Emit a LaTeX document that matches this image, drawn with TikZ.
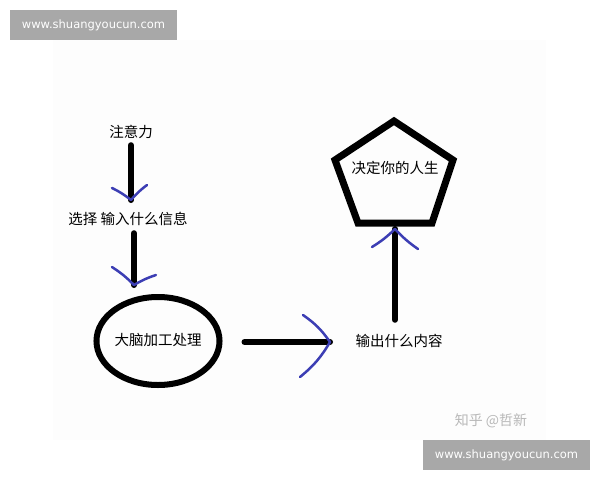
\documentclass[tikz,border=0pt]{standalone}
\usepackage{fontspec}
\setmainfont{Noto Sans CJK SC}
\newfontfamily\wmfont{DejaVu Sans}
\usetikzlibrary{shapes.geometric,calc}

\definecolor{pen}{RGB}{60,62,180}
\definecolor{wmgray}{RGB}{168,168,168}
\definecolor{paper}{RGB}{253,253,253}

\begin{document}
\begin{tikzpicture}[x=1pt, y=-1pt,
  word/.style={inner sep=0pt, text height=11pt, text depth=3pt, font=\fontsize{14.5}{16}\selectfont},
  shaft/.style={line width=6pt, line cap=round},
  chev/.style={pen, line width=2.5pt, line cap=round, line join=round},
  wmbox/.style={fill=wmgray, text=white, minimum width=167pt, minimum height=30pt, inner sep=0pt, font=\wmfont\fontsize{11.5}{13}\selectfont}]

% Page and photo area
\useasboundingbox (0,0) rectangle (600,480);
\fill[white] (0,0) rectangle (600,480);
\fill[paper] (53,40) rectangle (546,440);

% Watermarks
\node[wmbox] (wmtop) at (93.5,25) {www.shuangyoucun.com};
\node[wmbox] (wmbot) at (506.5,455) {www.shuangyoucun.com};
\node[text=black!28, inner sep=0pt, font=\fontsize{14}{16}\selectfont] (zhihu) at (491,421) {知乎 @哲新};

% Text nodes
\node[word] (att) at (131,133) {注意力};
\node[word] (sel) at (128,220) {选择 输入什么信息};
\node[word, draw, ellipse, line width=6pt, minimum width=114pt, minimum height=88pt] (proc) at (158,341) {大脑加工处理};
\node[word] (out) at (399,342) {输出什么内容};
\node[word] (life) at (395,169) {决定你的人生};

% Pentagon around the last text
\coordinate (P1) at (394,121);
\coordinate (P2) at (453,160);
\coordinate (P3) at (432,223);
\coordinate (P4) at (358,223);
\coordinate (P5) at (335,160);
\draw[line width=7pt, line join=miter] (P1) -- (P2) -- (P3) -- (P4) -- (P5) -- cycle;

% Tips of the hand-drawn arrows
\coordinate (tipA) at (131,200);
\coordinate (tipB) at (134,285);
\coordinate (tipC) at (330,342);
\coordinate (tipD) at (395,229);

% Black shafts
\draw[shaft, shorten <=5pt] (att.south) -- (tipA);
\draw[shaft, shorten <=6pt] (sel.south -| tipB) -- (tipB);
\draw[shaft, shorten <=22pt] (proc.east |- tipC) -- (tipC);
\draw[shaft, shorten <=15pt] (out.north -| tipD) -- (tipD);

% Blue heads
\draw[chev] ($(tipA)+(-19,-12)$) to[bend left=6] (tipA) to[bend left=6] ++(16,-15);
\draw[chev] ($(tipB)+(-22,-18)$) to[bend left=6] (tipB) to[bend left=6] ++(22,-10);
\draw[chev] ($(tipC)+(-27,-27)$) to[bend left=10] (tipC) to[bend left=10] ++(-30,35);
\draw[chev] ($(tipD)+(-23,18)$) to[bend right=6] (tipD) to[bend right=6] ++(23,20);

\end{tikzpicture}
\end{document}
